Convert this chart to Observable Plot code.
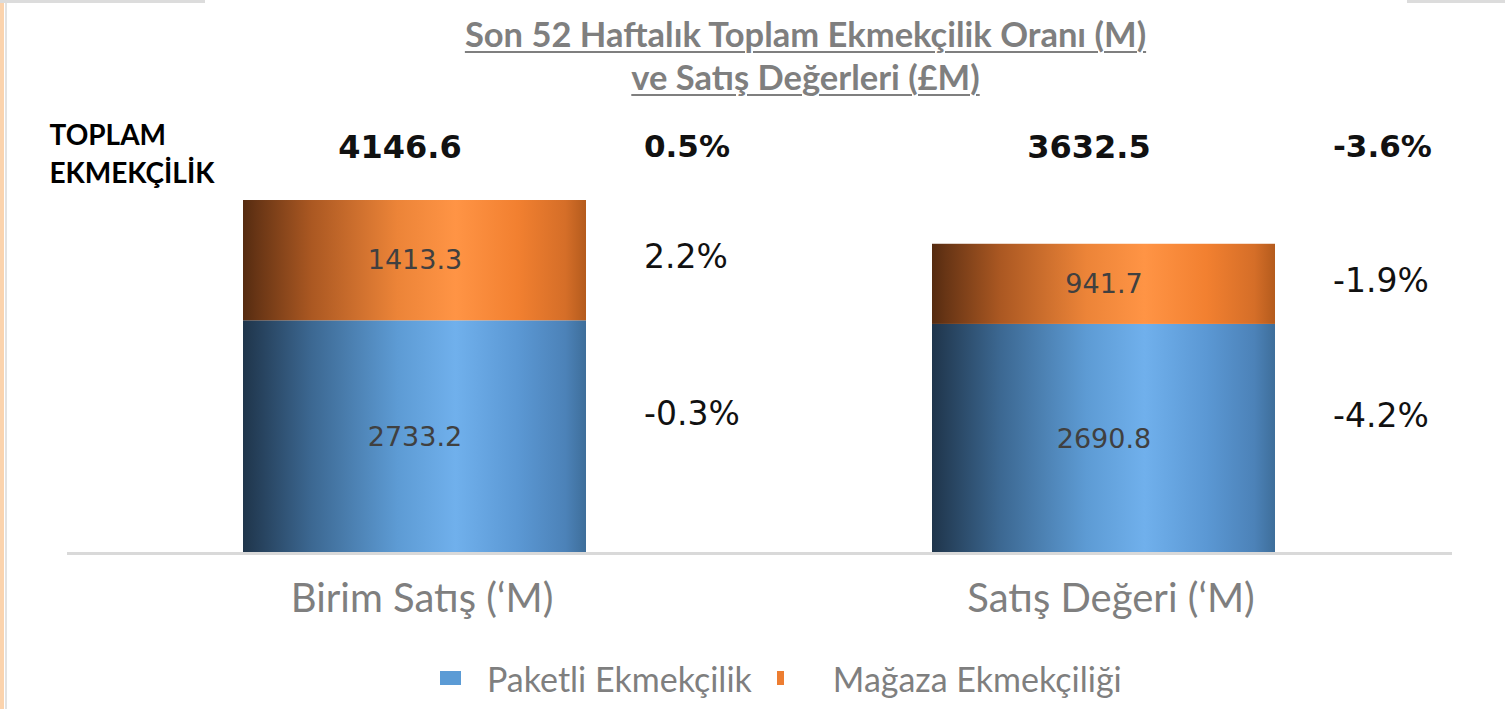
<!DOCTYPE html>
<html>
<head>
<meta charset="utf-8">
<script src="https://cdn.jsdelivr.net/npm/d3@7"></script>
<script src="https://cdn.jsdelivr.net/npm/@observablehq/plot@0.6"></script>
<style>
  html, body { margin: 0; padding: 0; background: #fff; }
  body { width: 1505px; height: 709px; overflow: hidden; position: relative; font-family: Lato, "Open Sans", sans-serif; }
  .deco { position: absolute; }
  #title { position: absolute; left: 0; top: 12px; width: 1505px; padding-left: 106px; box-sizing: border-box;
           text-align: center; font-weight: 700; font-size: 34.5px; line-height: 43px; color: #7f7f7f;
           text-decoration: underline; text-decoration-thickness: 2px; text-underline-offset: 4px; }
  #chart { position: absolute; left: 0; top: 100px; }
  #legend { position: absolute; left: 440px; top: 658px; height: 40px; display: flex; align-items: center;
            font-size: 34px; color: #7f7f7f; }
  #legend .sw { display: inline-block; height: 14px; }
</style>
</head>
<body>
<div class="deco" style="left:0;top:0;width:4px;height:709px;background:#fbd3ad"></div>
<div class="deco" style="left:5px;top:0;width:2px;height:709px;background:#e2e2e2"></div>
<div class="deco" style="left:0;top:0;width:205px;height:3px;background:#dcdcdc"></div>
<div class="deco" style="left:1407px;top:0;width:98px;height:3px;background:#dcdcdc"></div>
<div id="title"></div>
<div id="chart"></div>
<div id="legend"></div>
<script>
// ---- data ----
const titleLines = ["Son 52 Haftalık Toplam Ekmekçilik Oranı (M)", "ve Satış Değerleri (£M)"];
const totalLabel = "TOPLAM\nEKMEKÇİLİK";
const categories = ["Birim Satış (‘M)", "Satış Değeri (‘M)"];
const series = ["Paketli Ekmekçilik", "Mağaza Ekmekçiliği"];
const paketli = [2733.2, 2690.8];
const magaza = [1413.3, 941.7];
const totals = [4146.6, 3632.5];
const totalChange = ["0.5%", "-3.6%"];
const paketliChange = ["-0.3%", "-4.2%"];
const magazaChange = ["2.2%", "-1.9%"];
const seriesColors = ["#5b9bd5", "#ed7d31"];

// ---- tables ----
const rows = categories.flatMap((c, i) => [
  {cat: c, series: series[0], value: paketli[i], base: 0, change: paketliChange[i]},
  {cat: c, series: series[1], value: magaza[i], base: paketli[i], change: magazaChange[i]}
]);
const totalRows = categories.map((c, i) => ({cat: c, total: totals[i], change: totalChange[i]}));

document.getElementById("title").innerHTML = titleLines.map(t => `<div>${t}</div>`).join("");

const verdana = "DejaVu Sans, Verdana, sans-serif";
const pctDx = 229;

const svg = Plot.plot({
  width: 1505,
  height: 530,
  marginLeft: 67,
  marginRight: 53,
  marginTop: 100,
  marginBottom: 77,
  style: {fontFamily: "Lato, sans-serif", background: "transparent", overflow: "visible"},
  x: {domain: categories, paddingInner: 0.502, paddingOuter: 0.2547, label: null},
  y: {domain: [0, d3.max(totals)], axis: null},
  color: {type: "ordinal", domain: series, range: ["url(#gBlue)", "url(#gOrange)"]},
  marks: [
    Plot.barY(rows, {x: "cat", y: "value", fill: "series"}),
    Plot.ruleY([0], {stroke: "#d9d9d9", strokeWidth: 3}),
    Plot.axisX({tickSize: 0, tickPadding: 30, dx: 7, fontSize: 40, color: "#7f7f7f", fill: "#7f7f7f", label: null}),
    Plot.text(rows, {x: "cat", y: d => d.base + d.value / 2, text: d => d.value.toFixed(1),
      fill: "#404040", fontFamily: verdana, fontSize: 27}),
    Plot.text(rows.filter(d => d.series === series[1]), {x: "cat", y: d => d.base + d.value / 2, text: "change",
      dx: pctDx, dy: -3, textAnchor: "start", fill: "#111", fontFamily: verdana, fontSize: 33}),
    Plot.text(rows.filter(d => d.series === series[0]), {x: "cat", y: d => d.base + d.value / 2, text: "change",
      dx: pctDx, dy: -23, textAnchor: "start", fill: "#111", fontFamily: verdana, fontSize: 33}),
    Plot.text(totalRows, {x: "cat", frameAnchor: "top", lineAnchor: "middle", dy: -53, dx: -15, text: d => d.total.toFixed(1),
      fill: "#111", fontFamily: verdana, fontWeight: "bold", fontSize: 32}),
    Plot.text(totalRows, {x: "cat", frameAnchor: "top", lineAnchor: "middle", dy: -53, dx: pctDx, textAnchor: "start", text: "change",
      fill: "#111", fontFamily: verdana, fontWeight: "bold", fontSize: 31}),
    Plot.text([totalLabel], {text: d => d, frameAnchor: "top-left", dx: -18, dy: -49, textAnchor: "start",
      lineAnchor: "middle", lineHeight: 1.37, fill: "#000", fontFamily: "Lato, sans-serif", fontWeight: "bold", fontSize: 28})
  ]
});

// gradients for the glossy bars
const defs = d3.select(svg).insert("defs", ":first-child");
function grad(id, stops) {
  const g = defs.append("linearGradient").attr("id", id).attr("x1", 0).attr("x2", 1).attr("y1", 0).attr("y2", 0);
  stops.forEach(([o, c]) => g.append("stop").attr("offset", o).attr("stop-color", c));
}
grad("gBlue", [[0, "#1f354b"], [0.04, "#253f59"], [0.2, "#3c6892"], [0.45, "#5d9bd4"], [0.62, "#70b0ec"], [0.8, "#5b98d4"], [0.94, "#4c82b8"], [1, "#3e6e9a"]]);
grad("gOrange", [[0, "#552b10"], [0.04, "#683515"], [0.2, "#ab5822"], [0.45, "#ec8438"], [0.62, "#ff9445"], [0.8, "#f28030"], [0.94, "#d56e28"], [1, "#b45b1d"]]);

document.getElementById("chart").appendChild(svg);

// legend
const legend = document.getElementById("legend");
legend.innerHTML =
  `<span class="sw" style="width:21px;background:${seriesColors[0]}"></span>` +
  `<span style="margin-left:26px">${series[0]}</span>` +
  `<span class="sw" style="width:7px;margin-left:25px;background:${seriesColors[1]}"></span>` +
  `<span style="margin-left:49px">${series[1]}</span>`;
</script>
</body>
</html>
